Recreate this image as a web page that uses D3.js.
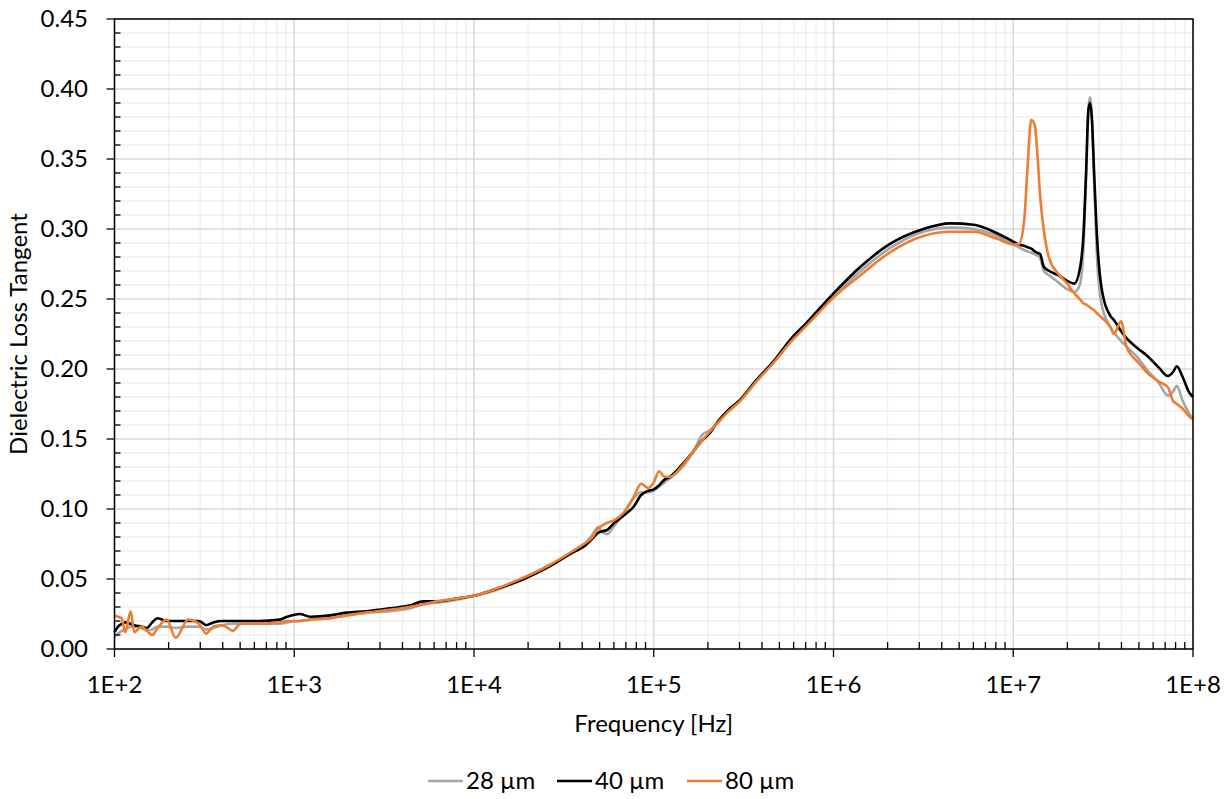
<!DOCTYPE html>
<html>
<head>
<meta charset="utf-8">
<script src="https://cdn.jsdelivr.net/npm/d3@7"></script>
<style>
  body { margin: 0; background: #fff; }
  svg { font-family: Lato, "Open Sans", sans-serif; }
</style>
</head>
<body>
<svg id="chart" width="1227" height="799"></svg>
<script>
// frequency, as powers of ten
const logFreq = [
  2.00, 2.02, 2.04, 2.06, 2.09, 2.11, 2.15, 2.18, 2.21, 2.24, 2.29, 2.34, 2.41, 2.47, 2.51, 2.55, 2.60, 2.66, 2.70, 2.80,
  2.92, 2.96, 3.03, 3.09, 3.20, 3.29, 3.40, 3.53, 3.64, 3.72, 3.79, 3.90, 4.00, 4.10, 4.24, 4.42, 4.55, 4.61, 4.66, 4.69,
  4.71, 4.74, 4.78, 4.83, 4.89, 4.93, 4.97, 5.00, 5.03, 5.06, 5.09, 5.16, 5.22, 5.27, 5.31, 5.36, 5.41, 5.48, 5.57, 5.67,
  5.76, 5.85, 6.00, 6.15, 6.31, 6.50, 6.65, 6.78, 6.91, 7.00, 7.03, 7.06, 7.08, 7.10, 7.12, 7.135, 7.15, 7.17, 7.20, 7.25,
  7.30, 7.34, 7.37, 7.39, 7.405, 7.418, 7.427, 7.437, 7.45, 7.464, 7.49, 7.54, 7.56, 7.60, 7.63, 7.70, 7.74, 7.81, 7.86, 7.89,
  7.91, 7.94, 7.98, 8.00
]

const tan28 = [
  0.009, 0.011, 0.013, 0.014, 0.016, 0.016, 0.015, 0.013, 0.014, 0.016, 0.016, 0.015, 0.016, 0.016, 0.014, 0.015, 0.017, 0.018, 0.018, 0.018,
  0.018, 0.019, 0.020, 0.021, 0.022, 0.024, 0.026, 0.027, 0.029, 0.032, 0.033, 0.035, 0.038, 0.041, 0.048, 0.059, 0.069, 0.074, 0.082, 0.087,
  0.084, 0.082, 0.088, 0.096, 0.108, 0.112, 0.112, 0.113, 0.116, 0.119, 0.122, 0.130, 0.141, 0.153, 0.156, 0.162, 0.170, 0.178, 0.191, 0.206,
  0.220, 0.232, 0.252, 0.270, 0.286, 0.298, 0.301, 0.300, 0.295, 0.289, 0.287, 0.285, 0.284, 0.283, 0.282, 0.281, 0.279, 0.270, 0.267, 0.262,
  0.257, 0.255, 0.260, 0.285, 0.335, 0.385, 0.394, 0.380, 0.335, 0.285, 0.247, 0.230, 0.226, 0.220, 0.216, 0.207, 0.200, 0.190, 0.181, 0.184,
  0.188, 0.178, 0.168, 0.164
]

const tan40 = [
  0.012, 0.016, 0.018, 0.019, 0.018, 0.017, 0.016, 0.015, 0.019, 0.022, 0.020, 0.020, 0.020, 0.020, 0.017, 0.019, 0.020, 0.020, 0.020, 0.020,
  0.021, 0.023, 0.025, 0.023, 0.024, 0.026, 0.027, 0.029, 0.031, 0.034, 0.034, 0.036, 0.038, 0.042, 0.048, 0.059, 0.069, 0.073, 0.079, 0.083,
  0.084, 0.085, 0.090, 0.095, 0.102, 0.110, 0.113, 0.114, 0.117, 0.121, 0.123, 0.132, 0.141, 0.149, 0.154, 0.163, 0.170, 0.178, 0.192, 0.206,
  0.221, 0.233, 0.254, 0.273, 0.289, 0.300, 0.304, 0.303, 0.297, 0.291, 0.289, 0.288, 0.287, 0.286, 0.284, 0.283, 0.282, 0.273, 0.270, 0.267,
  0.263, 0.261, 0.271, 0.295, 0.340, 0.385, 0.390, 0.380, 0.340, 0.299, 0.259, 0.238, 0.235, 0.227, 0.222, 0.214, 0.210, 0.201, 0.195, 0.198,
  0.202, 0.195, 0.183, 0.180
]

const tan80 = [
  0.024, 0.023, 0.022, 0.012, 0.027, 0.012, 0.016, 0.013, 0.010, 0.015, 0.021, 0.008, 0.021, 0.018, 0.011, 0.016, 0.017, 0.013, 0.018, 0.018,
  0.019, 0.020, 0.020, 0.021, 0.022, 0.024, 0.026, 0.028, 0.030, 0.032, 0.034, 0.036, 0.038, 0.042, 0.049, 0.060, 0.070, 0.075, 0.080, 0.086,
  0.088, 0.090, 0.092, 0.097, 0.109, 0.118, 0.115, 0.119, 0.127, 0.123, 0.123, 0.131, 0.141, 0.149, 0.155, 0.162, 0.169, 0.177, 0.191, 0.205,
  0.219, 0.231, 0.251, 0.267, 0.283, 0.295, 0.298, 0.298, 0.293, 0.289, 0.289, 0.305, 0.345, 0.378, 0.374, 0.352, 0.323, 0.299, 0.279, 0.268,
  0.261, 0.254, 0.250, 0.247, 0.246, 0.245, 0.244, 0.243, 0.242, 0.240, 0.237, 0.230, 0.225, 0.234, 0.216, 0.204, 0.198, 0.191, 0.187, 0.177,
  0.175, 0.172, 0.166, 0.164
]

const seriesNames = ["28 µm", "40 µm", "80 µm"]
const seriesColors = ["#a5a5a5", "#000000", "#ed7d31"]
const xTickLabels = ["1E+2", "1E+3", "1E+4", "1E+5", "1E+6", "1E+7", "1E+8"]
const yTickLabels = ["0.00", "0.05", "0.10", "0.15", "0.20", "0.25", "0.30", "0.35", "0.40", "0.45"]

let svg = d3.select("#chart")

let plotLeft = 114.5, plotRight = 1193, plotTop = 19, plotBottom = 649

let x = d3.scaleLog().domain([1e2, 1e8]).range([plotLeft, plotRight])
let y = d3.scaleLinear().domain([0, 0.45]).range([plotBottom, plotTop])

// minor grid
let minorX = []
for (let e = 2; e < 8; e++) {
  for (let m = 2; m <= 9; m++) minorX.push(m * Math.pow(10, e))
}
let minorY = d3.range(0, 46).map((i) => i / 100).filter((v, i) => i % 5 != 0)

let grid = svg.append("g")
grid.selectAll(".minx").data(minorX).enter().append("line")
    .attr("x1", (d) => x(d)).attr("x2", (d) => x(d))
    .attr("y1", plotTop).attr("y2", plotBottom)
    .attr("stroke", "#efefef").attr("stroke-width", 1.3)
grid.selectAll(".miny").data(minorY).enter().append("line")
    .attr("x1", plotLeft).attr("x2", plotRight)
    .attr("y1", (d) => y(d)).attr("y2", (d) => y(d))
    .attr("stroke", "#efefef").attr("stroke-width", 1.3)

let majorX = xTickLabels.map((d, i) => Math.pow(10, i + 2))
let majorY = yTickLabels.map((d) => +d)

grid.selectAll(".majx").data(majorX).enter().append("line")
    .attr("x1", (d) => x(d)).attr("x2", (d) => x(d))
    .attr("y1", plotTop).attr("y2", plotBottom)
    .attr("stroke", "#d9d9d9").attr("stroke-width", 1.5)
grid.selectAll(".majy").data(majorY).enter().append("line")
    .attr("x1", plotLeft).attr("x2", plotRight)
    .attr("y1", (d) => y(d)).attr("y2", (d) => y(d))
    .attr("stroke", "#d9d9d9").attr("stroke-width", 1.5)

// curves
let allSeries = [tan28, tan40, tan80]
let line = d3.line()
             .x((d, i) => x(Math.pow(10, logFreq[i])))
             .y((d) => y(d))
             .curve(d3.curveMonotoneX)

svg.append("g").selectAll("path")
   .data(allSeries)
   .enter()
   .append("path")
   .attr("d", (d) => line(d))
   .attr("fill", "none")
   .attr("stroke", (d, i) => seriesColors[i])
   .attr("stroke-width", 2.6)
   .attr("stroke-linejoin", "round")

// frame
svg.append("rect")
   .attr("x", plotLeft).attr("y", plotTop)
   .attr("width", plotRight - plotLeft).attr("height", plotBottom - plotTop)
   .attr("fill", "none").attr("stroke", "#000").attr("stroke-width", 1.5)

// ticks
let axes = svg.append("g").attr("stroke", "#000").attr("stroke-width", 1.3)
axes.selectAll(".ymaj").data(majorY).enter().append("line")
    .attr("x1", plotLeft - 8).attr("x2", plotLeft)
    .attr("y1", (d) => y(d)).attr("y2", (d) => y(d))
axes.selectAll(".ymin").data(minorY).enter().append("line")
    .attr("x1", plotLeft).attr("x2", plotLeft + 6)
    .attr("y1", (d) => y(d)).attr("y2", (d) => y(d))
axes.selectAll(".xmaj").data(majorX).enter().append("line")
    .attr("x1", (d) => x(d)).attr("x2", (d) => x(d))
    .attr("y1", plotBottom).attr("y2", plotBottom + 8)
axes.selectAll(".xmin").data(minorX).enter().append("line")
    .attr("x1", (d) => x(d)).attr("x2", (d) => x(d))
    .attr("y1", plotBottom - 7).attr("y2", plotBottom)

svg.selectAll(".ylab").data(yTickLabels).enter().append("text")
   .attr("x", 88)
   .attr("y", (d) => y(+d) + 8)
   .attr("text-anchor", "end")
   .style("font-size", "24px")
   .text((d) => d)

svg.selectAll(".xlab").data(xTickLabels).enter().append("text")
   .attr("x", (d, i) => x(majorX[i]))
   .attr("y", 693)
   .attr("text-anchor", "middle")
   .style("font-size", "24px")
   .text((d) => d)

svg.append("text")
   .attr("x", (plotLeft + plotRight) / 2)
   .attr("y", 732)
   .attr("text-anchor", "middle")
   .style("font-size", "24px")
   .text("Frequency [Hz]")

svg.append("text")
   .attr("transform", "translate(27," + (plotTop + plotBottom) / 2 + ") rotate(-90)")
   .attr("text-anchor", "middle")
   .style("font-size", "24px")
   .text("Dielectric Loss Tangent")

// legend
let legendX = [428, 557, 687]
let legend = svg.append("g")
legend.selectAll("line").data(seriesNames).enter().append("line")
      .attr("x1", (d, i) => legendX[i]).attr("x2", (d, i) => legendX[i] + 35)
      .attr("y1", 781).attr("y2", 781)
      .attr("stroke", (d, i) => seriesColors[i])
      .attr("stroke-width", 2.6)
legend.selectAll("text").data(seriesNames).enter().append("text")
      .attr("x", (d, i) => legendX[i] + 38)
      .attr("y", 789)
      .style("font-size", "24px")
      .text((d) => d)
</script>
</body>
</html>
